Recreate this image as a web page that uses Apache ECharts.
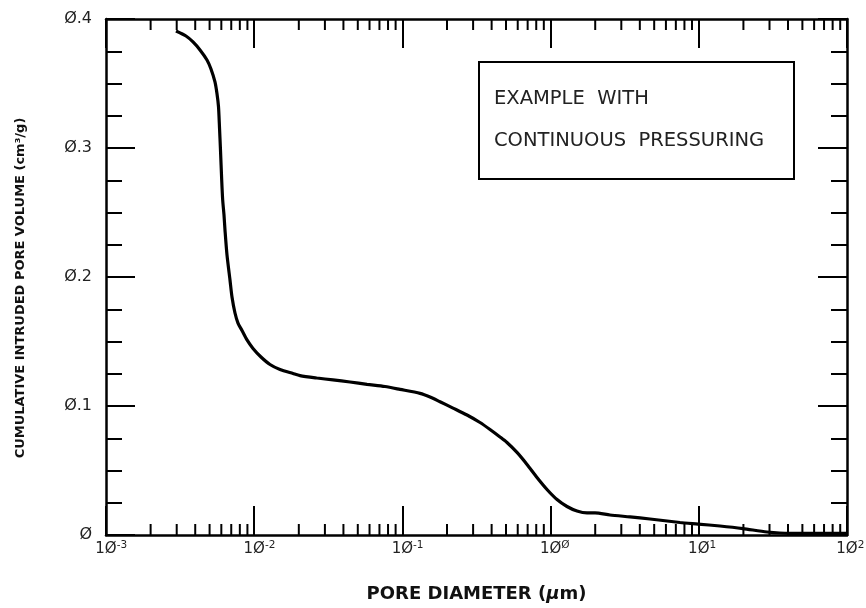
<!DOCTYPE html>
<html>
<head>
<meta charset="utf-8">
<title>Pore volume</title>
<script src="https://cdn.jsdelivr.net/npm/echarts@6.0.0/dist/echarts.min.js"></script>
<style>
  html, body { margin: 0; padding: 0; background: #fff; }
  #chart { width: 866px; height: 608px; }
</style>
</head>
<body>
<div id="chart"></div>
<script>
// pore diameter (um) / cumulative intruded volume (cm3/g)
var diameters = [0.002967, 0.003465, 0.003864, 0.004309, 0.004802, 0.005109, 0.005436, 0.005610,
    0.005742, 0.005832, 0.005923, 0.006035, 0.006129, 0.006254, 0.006352, 0.006552, 0.006865,
    0.007082, 0.007420, 0.007774, 0.008273, 0.008942, 0.009815, 0.01111, 0.01278, 0.01493,
    0.01827, 0.02038, 0.02653, 0.03401, 0.04430, 0.05771, 0.07630, 0.09634, 0.1315, 0.1536,
    0.1794, 0.2195, 0.2729, 0.3339, 0.3901, 0.4556, 0.5078, 0.5932, 0.6932, 0.8094, 0.9456,
    1.105, 1.290, 1.507, 1.761, 1.994, 2.517, 3.434, 4.686, 7.466, 9.876, 13.90, 19.87, 28.85,
    41.24, 65.75, 100];
var volumes = [0.3907, 0.3868, 0.3822, 0.3760, 0.3682, 0.3612, 0.3512, 0.3420,
    0.3320, 0.3160, 0.2984, 0.2752, 0.2597, 0.2481, 0.2364, 0.2171, 0.1977,
    0.1845, 0.1721, 0.1643, 0.1585, 0.1512, 0.1446, 0.1380, 0.1322, 0.1283,
    0.1252, 0.1236, 0.1217, 0.1202, 0.1186, 0.1168, 0.1151, 0.1129, 0.1098, 0.1070,
    0.1033, 0.0984, 0.0930, 0.0872, 0.0818, 0.0760, 0.0717, 0.0640, 0.0547, 0.0446, 0.0353,
    0.0275, 0.0221, 0.0186, 0.0171, 0.0171, 0.0155, 0.0140, 0.0124, 0.0097, 0.0085, 0.0070, 0.0050, 0.0023,
    0.0012, 0.0012, 0.0012];

// tick labels
var xExp = { '-3': '-3', '-2': '-2', '-1': '-1', '0': 'Ø', '1': '1', '2': '2' };
var yLabels = { '0': 'Ø', '0.1': 'Ø.1', '0.2': 'Ø.2', '0.3': 'Ø.3', '0.4': 'Ø.4' };
// minor log ticks 2..9 in every decade
var decades = [0.001, 0.01, 0.1, 1, 10];
var minorSteps = [2, 3, 4, 5, 6, 7, 8, 9];

var minorTicks = [];
decades.forEach(function (d) {
    minorSteps.forEach(function (k) { minorTicks.push([+(d * k).toPrecision(3), 0]); });
});

var curve = diameters.map(function (d, i) { return [d, volumes[i]]; });

var font = 'DejaVu Sans';
var chart = echarts.init(document.getElementById('chart'));

var xBase = {
    type: 'log',
    logBase: 10,
    min: 0.001,
    max: 100,
    interval: 1,
    axisLine: { show: true, onZero: false, lineStyle: { color: '#000', width: 2.5 } },
    axisTick: { show: true, inside: true, length: 29, lineStyle: { color: '#000', width: 2 } },
    splitLine: { show: false },
    minorTick: { show: false },
    minorSplitLine: { show: false }
};
var yBase = {
    type: 'value',
    min: 0,
    max: 0.4,
    interval: 0.1,
    axisLine: { show: true, onZero: false, lineStyle: { color: '#000', width: 2.5 } },
    axisTick: { show: true, inside: true, length: 29, lineStyle: { color: '#000', width: 2 } },
    minorTick: { show: true, splitNumber: 4, length: 16, lineStyle: { color: '#000', width: 2 } },
    splitLine: { show: false }
};

var option = {
    animation: false,
    backgroundColor: '#fff',
    grid: { left: 106, right: 19, top: 19, bottom: 73, containLabel: false, outerBoundsMode: 'none' },
    xAxis: [
        Object.assign({}, xBase, {
            position: 'bottom',
            name: 'PORE DIAMETER ({mu|μ}m)',
            nameLocation: 'middle',
            nameGap: 50,
            nameTextStyle: {
                fontFamily: font, fontSize: 18, fontWeight: 'bold', color: '#111',
                rich: { mu: { fontFamily: font, fontSize: 18, fontWeight: 'bold', fontStyle: 'italic', color: '#111' } }
            },
            axisLabel: {
                margin: 5,
                fontFamily: font,
                fontSize: 15,
                color: '#222',
                formatter: function (v) {
                    var e = xExp[String(Math.round(Math.log(v) / Math.LN10))];
                    return '{pad|' + e + '}{b|1Ø}{sup|' + e + '}';
                },
                rich: {
                    b: { fontFamily: font, fontSize: 15, lineHeight: 19, color: '#222' },
                    sup: { fontFamily: font, fontSize: 10.5, lineHeight: 10, verticalAlign: 'top', color: '#222' },
                    pad: { fontFamily: font, fontSize: 10.5, lineHeight: 10, verticalAlign: 'top', color: 'transparent' }
                }
            }
        }),
        Object.assign({}, xBase, { position: 'top', axisLabel: { show: false } })
    ],
    yAxis: [
        Object.assign({}, yBase, {
            position: 'left',
            name: 'CUMULATIVE INTRUDED PORE VOLUME (cm³/g)',
            nameLocation: 'middle',
            nameGap: 79,
            nameTextStyle: { fontFamily: font, fontSize: 13, fontWeight: 'bold', color: '#111', padding: [0, 22, 0, 0] },
            axisLabel: {
                margin: 14,
                fontFamily: font,
                fontSize: 16,
                color: '#222',
                formatter: function (v) { return yLabels[String(+v.toFixed(1))]; }
            }
        }),
        Object.assign({}, yBase, { position: 'right', axisLabel: { show: false } })
    ],
    series: [
        {
            type: 'line',
            data: curve,
            smooth: 0.25,
            symbol: 'none',
            lineStyle: { color: '#000', width: 3.2 },
            z: 5
        },
        {
            // minor decade ticks on bottom and top edges
            type: 'custom',
            data: minorTicks,
            silent: true,
            renderItem: function (params, api) {
                var b = api.coord([api.value(0), 0]);
                var t = api.coord([api.value(0), 0.4]);
                var st = { stroke: '#000', lineWidth: 2 };
                return {
                    type: 'group',
                    children: [
                        { type: 'line', shape: { x1: b[0], y1: b[1], x2: b[0], y2: b[1] - 11 }, style: st },
                        { type: 'line', shape: { x1: t[0], y1: t[1], x2: t[0], y2: t[1] + 11 }, style: st }
                    ]
                };
            },
            z: 3
        }
    ],
    graphic: [
        {
            type: 'group',
            left: 478,
            top: 61,
            children: [
                { type: 'rect', shape: { x: 0, y: 0, width: 315, height: 117 },
                  style: { fill: '#fff', stroke: '#000', lineWidth: 2 } },
                { type: 'text', x: 15, y: 37,
                  style: { text: 'EXAMPLE  WITH', font: '19.5px "DejaVu Sans"', fill: '#222', verticalAlign: 'middle' } },
                { type: 'text', x: 15, y: 79,
                  style: { text: 'CONTINUOUS  PRESSURING', font: '19.5px "DejaVu Sans"', fill: '#222', verticalAlign: 'middle' } }
            ]
        }
    ]
};

chart.setOption(option);
</script>
</body>
</html>
